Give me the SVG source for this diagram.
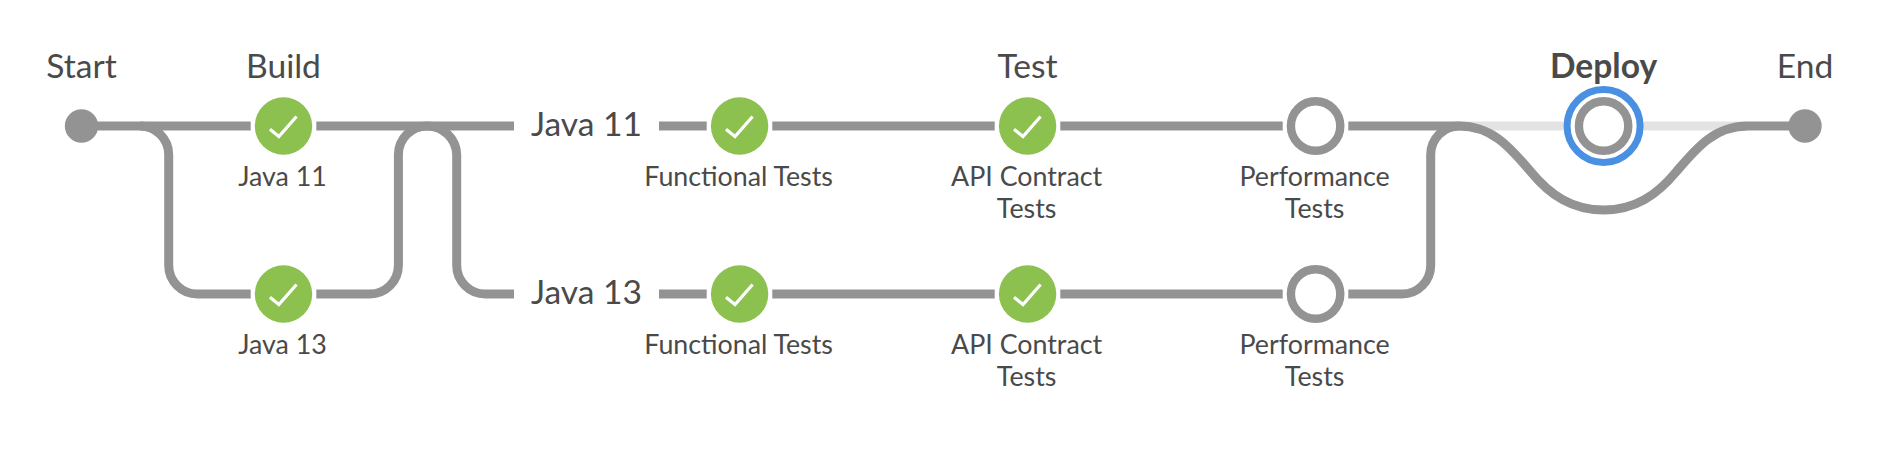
<svg xmlns="http://www.w3.org/2000/svg" width="1902" height="450" viewBox="0 0 1902 450">
<style>
text{font-family:Lato,"Open Sans",sans-serif;fill:#4a4a4a;text-anchor:middle}
.h{font-size:33.600px}.big{font-size:33.600px}.s{font-size:26.800px}
.c{fill:none;stroke:#949393;stroke-width:9}
.ok{fill:#8cc04f}
.chk{fill:none;stroke:#fff;stroke-width:3.200}
.ring{fill:#fff;stroke:#949393;stroke-width:8.400}
.end{fill:#949393}
</style>
<defs>
<g id="ok"><circle class="ok" r="28.7"/><path class="chk" d="M-13.600 3.300L-4.600 10.500 13 -9.500"/></g>
</defs>
<rect width="1902" height="450" fill="#fff"/>
<g id="connectors">
<path d="M1459 126H1748" fill="none" stroke="#e3e3e3" stroke-width="9"/>
<path class="c" d="M81.500 126H250.700M316.300 126H514"/>
<path class="c" d="M140 126A28.700 28.700 0 0 1 168.700 154.700V265.300A28.700 28.700 0 0 0 197.400 294H250.700M316.300 294H369.700A28.700 28.700 0 0 0 398.400 265.300V154.700A28.700 28.700 0 0 1 427.100 126A29.600 29.600 0 0 1 456.700 154.700V265.300A28.700 28.700 0 0 0 485.400 294H514"/>
<path class="c" d="M659 126H706.700M772.300 126H994.700M1060.300 126H1282.700M1348.300 126H1459"/>
<path class="c" d="M659 294H706.700M772.300 294H994.700M1060.300 294H1282.700M1348.300 294H1402A28.700 28.700 0 0 0 1430.700 265.300V154.700A28.700 28.700 0 0 1 1459.400 126"/>
<path class="c" d="M1459 126C1494 126 1512 150 1531 172C1550 195 1572 210 1603.600 210C1635 210 1657 195 1676 172C1695 150 1713 126 1748 126H1805"/>
</g>
<g id="start"><circle class="end" cx="81.500" cy="126" r="16.700"/><text class="h" x="81.500" y="77.500">Start</text></g>
<g id="stage-build"><text class="h" x="283.500" y="77.500">Build</text></g>
<g id="build-java11"><use href="#ok" x="283.500" y="126"/><text class="s" x="282.500" y="185.500">Java 11</text></g>
<g id="build-java13"><use href="#ok" x="283.500" y="294"/><text class="s" x="282.500" y="353.500">Java 13</text></g>
<g id="label-java11"><text class="big" x="586.500" y="136">Java 11</text></g>
<g id="label-java13"><text class="big" x="586.500" y="304">Java 13</text></g>
<g id="func11"><use href="#ok" x="739.600" y="126"/><text class="s" x="738.600" y="185.500">Functional Tests</text></g>
<g id="func13"><use href="#ok" x="739.600" y="294"/><text class="s" x="738.600" y="353.500">Functional Tests</text></g>
<g id="stage-test"><text class="h" x="1027.600" y="77.500">Test</text></g>
<g id="api11"><use href="#ok" x="1027.600" y="126"/><text class="s" x="1026.600" y="185.500">API Contract</text><text class="s" x="1026.600" y="218">Tests</text></g>
<g id="api13"><use href="#ok" x="1027.600" y="294"/><text class="s" x="1026.600" y="353.500">API Contract</text><text class="s" x="1026.600" y="386">Tests</text></g>
<g id="perf11"><circle class="ring" cx="1315.600" cy="126" r="24.700"/><text class="s" x="1314.600" y="185.500">Performance</text><text class="s" x="1314.600" y="218">Tests</text></g>
<g id="perf13"><circle class="ring" cx="1315.600" cy="294" r="24.700"/><text class="s" x="1314.600" y="353.500">Performance</text><text class="s" x="1314.600" y="386">Tests</text></g>
<g id="deploy"><circle cx="1603.600" cy="126" r="36.500" fill="#fff" stroke="#4a90e2" stroke-width="7"/><circle class="ring" cx="1603.600" cy="126" r="24.700"/><text class="h" x="1603.600" y="77.500" font-weight="700">Deploy</text></g>
<g id="end"><circle class="end" cx="1805" cy="126" r="16.700"/><text class="h" x="1805" y="77.500">End</text></g>
</svg>
